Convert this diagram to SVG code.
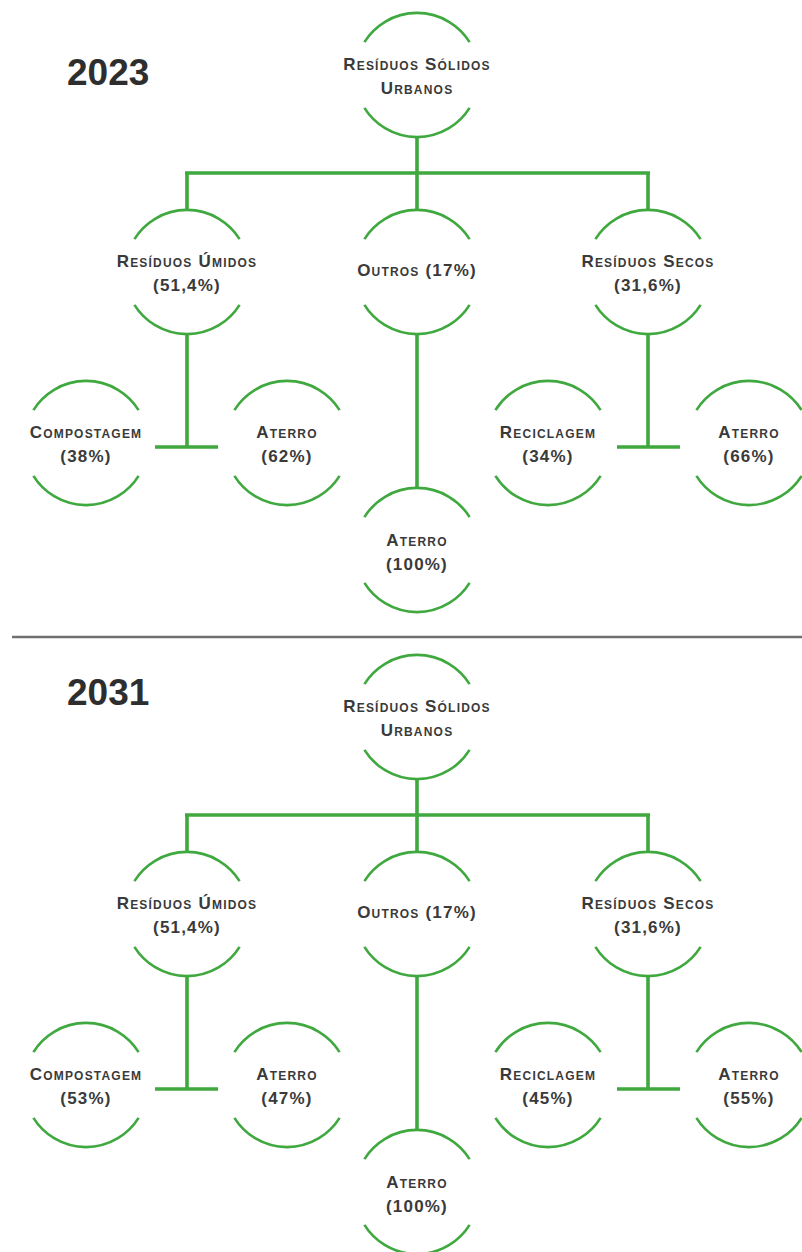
<svg xmlns="http://www.w3.org/2000/svg" xmlns:xlink="http://www.w3.org/1999/xlink" width="802" height="1252" viewBox="0 0 802 1252">
<style>
.ring{fill:none;stroke:#3fa83f;stroke-width:2.6;}
.conn{fill:none;stroke:#3fa83f;stroke-width:3.6;stroke-linecap:butt;}
.lbl{font-family:"Liberation Sans",Arial,sans-serif;font-weight:bold;font-size:17px;font-variant:small-caps;letter-spacing:1.2px;fill:#3a3a3a;text-anchor:middle;}
.year{font-family:"Liberation Sans",Arial,sans-serif;font-weight:bold;font-size:37px;fill:#2e2e2e;}
.sep{stroke:#707070;stroke-width:2.5;}
</style>
<defs>
<g id="ring">
<path class="ring" d="M -52.6 -32.9 A 62 62 0 0 1 52.6 -32.9"/>
<path class="ring" d="M -52.6 32.9 A 62 62 0 0 0 52.6 32.9"/>
</g>
</defs>
<rect width="802" height="1252" fill="#ffffff"/>

<text class="year" x="67" y="85">2023</text>
<text class="year" x="67" y="705">2031</text>
<line class="sep" x1="12" y1="637" x2="802" y2="637"/>

<g id="connectors">
<!-- 2023 -->
<path class="conn" d="M417 137 V173 M185 173 H650 M187 173 V210 M417 173 V210 M648 173 V210"/>
<path class="conn" d="M187 334 V447 M155 447 H218"/>
<path class="conn" d="M417 334 V488"/>
<path class="conn" d="M648 334 V447 M617 447 H680"/>
<!-- 2031 -->
<path class="conn" d="M417 779 V815 M185 815 H650 M187 815 V852 M417 815 V852 M648 815 V852"/>
<path class="conn" d="M187 976 V1089 M155 1089 H218"/>
<path class="conn" d="M417 976 V1130"/>
<path class="conn" d="M648 976 V1089 M617 1089 H680"/>
</g>

<!-- 2023 nodes -->
<g id="n23-rsu"><use xlink:href="#ring" x="417" y="75"/><text class="lbl" x="417" y="70">Resíduos Sólidos</text><text class="lbl" x="417" y="94">Urbanos</text></g>
<g id="n23-umidos"><use xlink:href="#ring" x="187" y="272"/><text class="lbl" x="187" y="267">Resíduos Úmidos</text><text class="lbl" x="187" y="291">(51,4%)</text></g>
<g id="n23-outros"><use xlink:href="#ring" x="417" y="272"/><text class="lbl" x="417" y="276">Outros (17%)</text></g>
<g id="n23-secos"><use xlink:href="#ring" x="648" y="272"/><text class="lbl" x="648" y="267">Resíduos Secos</text><text class="lbl" x="648" y="291">(31,6%)</text></g>
<g id="n23-compost"><use xlink:href="#ring" x="86" y="443"/><text class="lbl" x="86" y="438">Compostagem</text><text class="lbl" x="86" y="462">(38%)</text></g>
<g id="n23-aterro1"><use xlink:href="#ring" x="287" y="443"/><text class="lbl" x="287" y="438">Aterro</text><text class="lbl" x="287" y="462">(62%)</text></g>
<g id="n23-recicl"><use xlink:href="#ring" x="548" y="443"/><text class="lbl" x="548" y="438">Reciclagem</text><text class="lbl" x="548" y="462">(34%)</text></g>
<g id="n23-aterro2"><use xlink:href="#ring" x="749" y="443"/><text class="lbl" x="749" y="438">Aterro</text><text class="lbl" x="749" y="462">(66%)</text></g>
<g id="n23-aterro3"><use xlink:href="#ring" x="417" y="550"/><text class="lbl" x="417" y="546">Aterro</text><text class="lbl" x="417" y="570">(100%)</text></g>

<!-- 2031 nodes -->
<g id="n31-rsu"><use xlink:href="#ring" x="417" y="717"/><text class="lbl" x="417" y="712">Resíduos Sólidos</text><text class="lbl" x="417" y="736">Urbanos</text></g>
<g id="n31-umidos"><use xlink:href="#ring" x="187" y="914"/><text class="lbl" x="187" y="909">Resíduos Úmidos</text><text class="lbl" x="187" y="933">(51,4%)</text></g>
<g id="n31-outros"><use xlink:href="#ring" x="417" y="914"/><text class="lbl" x="417" y="918">Outros (17%)</text></g>
<g id="n31-secos"><use xlink:href="#ring" x="648" y="914"/><text class="lbl" x="648" y="909">Resíduos Secos</text><text class="lbl" x="648" y="933">(31,6%)</text></g>
<g id="n31-compost"><use xlink:href="#ring" x="86" y="1085"/><text class="lbl" x="86" y="1080">Compostagem</text><text class="lbl" x="86" y="1104">(53%)</text></g>
<g id="n31-aterro1"><use xlink:href="#ring" x="287" y="1085"/><text class="lbl" x="287" y="1080">Aterro</text><text class="lbl" x="287" y="1104">(47%)</text></g>
<g id="n31-recicl"><use xlink:href="#ring" x="548" y="1085"/><text class="lbl" x="548" y="1080">Reciclagem</text><text class="lbl" x="548" y="1104">(45%)</text></g>
<g id="n31-aterro2"><use xlink:href="#ring" x="749" y="1085"/><text class="lbl" x="749" y="1080">Aterro</text><text class="lbl" x="749" y="1104">(55%)</text></g>
<g id="n31-aterro3"><use xlink:href="#ring" x="417" y="1192"/><text class="lbl" x="417" y="1188">Aterro</text><text class="lbl" x="417" y="1212">(100%)</text></g>
</svg>
